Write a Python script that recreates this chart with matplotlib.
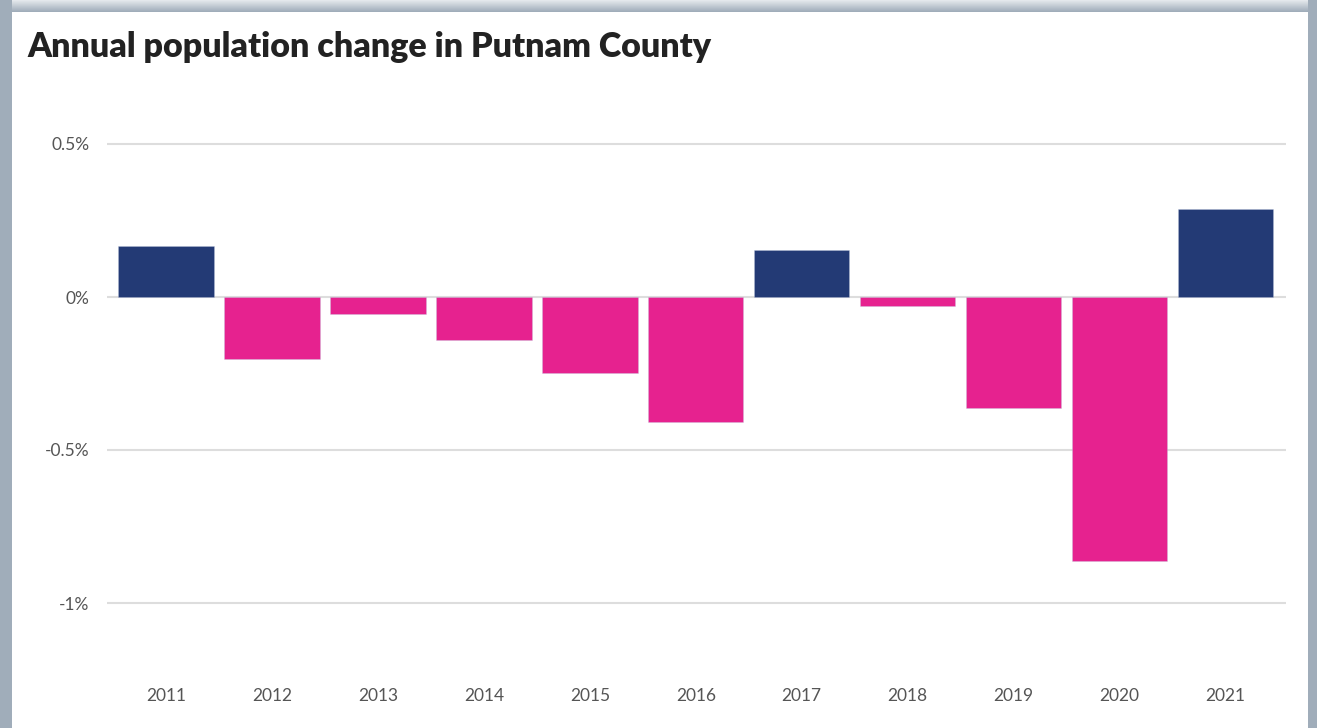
#!/usr/bin/env python3
"""
Bar chart of annual population change in Putnam County.
"""

import numpy as np
import matplotlib.pyplot as plt
from matplotlib.patches import Rectangle
from matplotlib.ticker import FuncFormatter
from matplotlib.colors import LinearSegmentedColormap
from matplotlib.transforms import ScaledTranslation

# Data (percent change per year)
years = ['2011', '2012', '2013', '2014', '2015', '2016',
         '2017', '2018', '2019', '2020', '2021']
change_pct = [0.168, -0.201, -0.054, -0.139, -0.247, -0.410,
              0.152, -0.031, -0.364, -0.864, 0.289]
y_ticks = [-1.0, -0.5, 0.0, 0.5]

NAVY = '#233a75'
PINK = '#e6228f'
FRAME = '#a0adba'

W, H = 1317, 728
fig = plt.figure(figsize=(W / 100, H / 100), dpi=100)
fig.patch.set_facecolor('white')


def fx(px):
    return px / W


def fy(py):
    return 1 - py / H


# Gray frame round the white panel (screenshot look)
fig.patches.append(Rectangle((0, 0), fx(12), 1, transform=fig.transFigure,
                             facecolor=FRAME, edgecolor='none', zorder=0))
fig.patches.append(Rectangle((fx(1308), 0), fx(W - 1308), 1, transform=fig.transFigure,
                             facecolor=FRAME, edgecolor='none', zorder=0))
# top strip with a soft gradient
grad = np.linspace(0, 1, 12).reshape(-1, 1)
top_ax = fig.add_axes([0, fy(12), 1, 12 / H])
top_ax.imshow(grad, aspect='auto',
              cmap=LinearSegmentedColormap.from_list('frame', ['#e4e8ec', FRAME]),
              extent=[0, 1, 0, 1])
top_ax.axis('off')

# Title
fig.text(fx(27), fy(47), "Annual population change in Putnam County",
         fontsize=24.5, fontweight='heavy', color='#222222', family='Lato',
         ha='left', va='center')

# Axes placement: 0.5% at y=144px, -1% at y=603px
ymin, ymax = -1.2, 0.6
px_per_unit = (603 - 144) / 1.5
ax_top = 144 - (ymax - 0.5) * px_per_unit
ax_bot = 603 + (-1.0 - ymin) * px_per_unit
ax_left, ax_right = 107, 1286
ax = fig.add_axes([fx(ax_left), fy(ax_bot), (ax_right - ax_left) / W, (ax_bot - ax_top) / H])

x = np.arange(len(years))
colors = [NAVY if v >= 0 else PINK for v in change_pct]
ax.bar(x, change_pct, width=0.9, color=colors, edgecolor=(0.75, 0.78, 0.88, 0.6),
       linewidth=0.4, zorder=3)

ax.set_xlim(-0.557, 10.57)
ax.set_ylim(ymin, ymax)
ax.set_yticks(y_ticks)
ax.yaxis.set_major_formatter(FuncFormatter(lambda v, _: f"{v:g}%"))
ax.set_xticks(x)
ax.set_xticklabels(years)
ax.grid(axis='y', color='#dddddd', linewidth=1.5, zorder=0)
for s in ax.spines.values():
    s.set_visible(False)
ax.tick_params(axis='both', length=0, labelsize=12.5, labelcolor='#555555')
ax.tick_params(axis='y', pad=12.5)
ax.tick_params(axis='x', pad=0)
for lbl in ax.get_xticklabels() + ax.get_yticklabels():
    lbl.set_family('Lato')

# push x labels down to sit near the bottom
offset_px = 694 - ax_bot
for lbl in ax.get_xticklabels():
    lbl.set_transform(lbl.get_transform() +
                      ScaledTranslation(0, -(offset_px - 6) / 100, fig.dpi_scale_trans))

fig.savefig('out.png', dpi=100, facecolor=fig.get_facecolor())
